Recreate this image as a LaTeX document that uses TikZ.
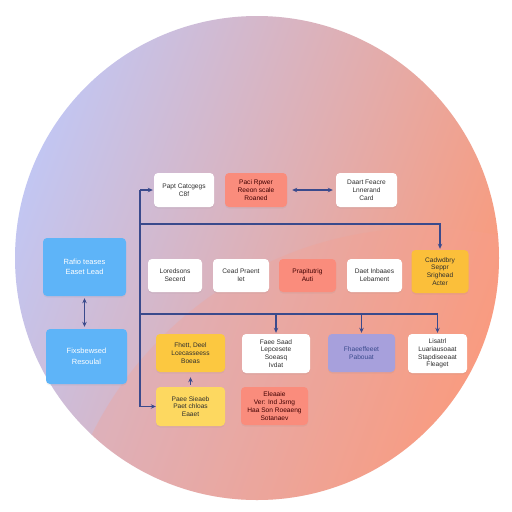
\documentclass[tikz,border=0pt]{standalone}
\usepackage{fontspec}
\setmainfont{Liberation Sans}
\usetikzlibrary{arrows.meta}
\usetikzlibrary{positioning}
\usetikzlibrary{shadows}

\definecolor{lav}{HTML}{C2C6F2}
\definecolor{lilac}{HTML}{DEC2D8}
\definecolor{salm}{HTML}{FA9A7A}
\definecolor{blob}{HTML}{F7A090}
\definecolor{linkblue}{HTML}{3A4A8C}
\definecolor{cardblue}{HTML}{5EB4F8}
\definecolor{cardred}{HTML}{FA8C7C}
\definecolor{cardorange}{HTML}{FBBF3A}
\definecolor{cardyellow}{HTML}{FCC840}
\definecolor{cardpale}{HTML}{FDD860}
\definecolor{cardviolet}{HTML}{A7A0DC}
\definecolor{cardtext}{HTML}{2E2E2E}

\begin{document}
\begin{tikzpicture}[
    x=1pt, y=-1pt,
    % styles
    card/.style={rounded corners=4pt, align=center, inner sep=1pt,
      font=\fontsize{6.6}{7.8}\selectfont, text=cardtext,
      drop shadow={shadow xshift=0pt, shadow yshift=-1.5pt, opacity=0.1}},
    whitecard/.style={card, fill=white},
    bluecard/.style={card, fill=cardblue, text=white,
      font=\fontsize{7.5}{10.5}\selectfont},
    redcard/.style={card, fill=cardred, text=black!75!red},
    violetcard/.style={card, fill=cardviolet, text=linkblue},
    midcard/.style={minimum height=33},
    line/.style={line width=1.1pt, linkblue},
    link/.style={line, -{Stealth[length=5pt, width=4.5pt]}},
    twoway/.style={line, {Stealth[length=5pt, width=4.5pt]}-{Stealth[length=5pt, width=4.5pt]}}]

    % backdrop
    \fill [white] (0, 0) rectangle (512, 512);
    \useasboundingbox (0, 0) rectangle (512, 512);
    \shade [top color=lav, middle color=lilac, bottom color=salm,
      shading angle=70] (257, 258) circle (242);
    \begin{scope}
      \clip (257, 258) circle (242);
      \fill [blob, opacity=0.3] (425, 600) circle (372);
    \end{scope}

    % left blue cards
    \node [bluecard, minimum width=83, minimum height=58]
      (rafio) at (84.5, 267) {Rafio teases\\Easet Lead};
    \node [bluecard, minimum width=81, minimum height=55]
      (fixs) at (86.5, 356.5) {Fixsbewsed\\Resoulal};

    % top row
    \node [whitecard, minimum width=60, minimum height=34]
      (papt) at (184, 190) {Papt Catcgegs\\C8f};
    \node [redcard, minimum width=62, minimum height=34]
      (paci) at (256, 190) {Paci Rpwer\\Reeon scale\\Roaned};
    \node [whitecard, minimum width=61, minimum height=34]
      (daart) at (366.5, 190) {Daart Feacre\\Lnnerand\\Card};

    % middle row
    \node [whitecard, midcard, minimum width=54]
      (lored) at (175, 275.5) {Loredsons\\Secerd};
    \node [whitecard, midcard, minimum width=56]
      (cead) at (241, 275.5) {Cead Praent\\Iet};
    \node [redcard, midcard, minimum width=57]
      (prapi) at (307.5, 275.5) {Prapitutrig\\Auti};
    \node [whitecard, midcard, minimum width=55]
      (daet) at (374.5, 275.5) {Daet Inbaaes\\Lebament};
    \node [card, fill=cardorange, minimum width=57, minimum height=43]
      (cadw) at (440, 271.5) {Cadwdbry\\Seppr\\Srighead\\Acter};

    % lower rows
    \node [card, fill=cardyellow, minimum width=69, minimum height=38]
      (fhett) at (190.5, 353) {Fhett, Deel\\Lcecasseess\\Boeas};
    \node [whitecard, minimum width=68, minimum height=39]
      (faee) at (276, 353.5) {Faee Saad\\Lepcesete\\Soeasq\\Ivdat};
    \node [violetcard, minimum width=67, minimum height=38]
      (fhae) at (361.5, 353) {Fhaeeffeeet\\Pabouat};
    \node [whitecard, minimum width=59, minimum height=39]
      (lisa) at (437.5, 353.5) {Lisatrl\\Luariausoaat\\Stapdiseeaat\\Fleaget};
    \node [card, fill=cardpale, minimum width=69, minimum height=39]
      (paee) at (190.5, 406.5) {Paee Sieaeb\\Paet chloas\\Eaaet};
    \node [redcard, minimum width=67, minimum height=38]
      (elea) at (274.5, 406) {Eleaaie\\Ver: Ind Jsrng\\Haa Son Roeaeng\\Sotanaev};

    % trunk and buses
    \coordinate (trunktop) at (140, 190);
    \coordinate (trunkbot) at (140, 406.5);
    \coordinate (busone) at (140, 224);
    \coordinate (bustwo) at (140, 314);
    \draw [line] (trunktop) -- (trunkbot);
    \draw [link, shorten >=1pt] (trunktop) -- (papt.west);
    \draw [link] (trunkbot) -- (paee.west);
    \draw [link, shorten >=1pt] (busone) -| (cadw.north);
    \foreach \target in {faee, fhae, lisa} {
      \draw [link, shorten >=1pt] (bustwo) -| (\target.north);
    }

    % short links
    \draw [twoway, shorten <=2pt, shorten >=2pt]
      (rafio.south) -- (rafio.south |- fixs.north);
    \draw [twoway, shorten <=5pt, shorten >=3pt] (paci.east) -- (daart.west);
    \draw [link, shorten <=2pt, shorten >=5pt] (paee.north) -- (fhett.south);

  \end{tikzpicture}
\end{document}
